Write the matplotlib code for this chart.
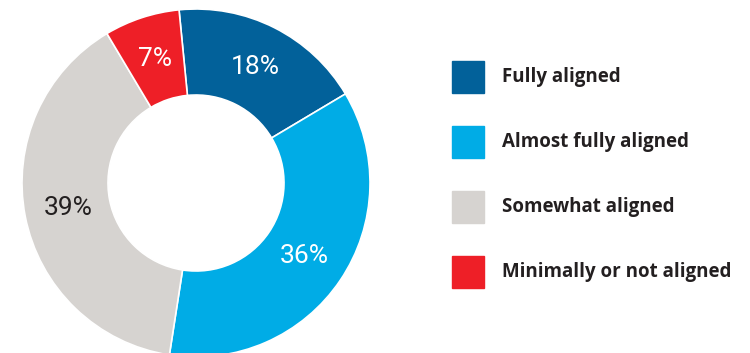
import matplotlib
matplotlib.use("Agg")
import matplotlib.pyplot as plt
from matplotlib.patches import Rectangle

categories = ["Fully aligned", "Almost fully aligned", "Somewhat aligned", "Minimally or not aligned"]
shares = [18, 36, 39, 7]
colors = ["#02619a", "#00ace6", "#d6d3d0", "#ee1f27"]
label_colors = ["white", "white", "#231f20", "white"]

W, H = 750, 353
fig = plt.figure(figsize=(W / 100, H / 100), dpi=100)
ax = fig.add_axes([0, 0, 1, 1])
ax.set_xlim(0, W)
ax.set_ylim(0, H)
ax.axis("off")

# donut, drawn clockwise from just left of 12 o'clock
wedges, texts, autotexts = ax.pie(
    shares, colors=colors, startangle=95.6, counterclock=False,
    center=(196, H - 183), radius=174, autopct="%d%%", pctdistance=0.75,
    wedgeprops=dict(width=86, edgecolor="white", linewidth=1.2),
    textprops=dict(family="Roboto", fontsize=19),
)
for t, c in zip(autotexts, label_colors):
    t.set_color(c)
ax.set_xlim(0, W)
ax.set_ylim(0, H)

# legend boxes on the right
for i, (name, col) in enumerate(zip(categories, colors)):
    yc = H - (77 + i * 65)
    ax.add_patch(Rectangle((452, yc - 16), 32, 32, color=col, clip_on=False))
    ax.text(502, yc, name, fontsize=13.5, fontweight="bold", family="Open Sans",
            color="#231f20", va="center", ha="left")

fig.savefig("out.png", dpi=100)
